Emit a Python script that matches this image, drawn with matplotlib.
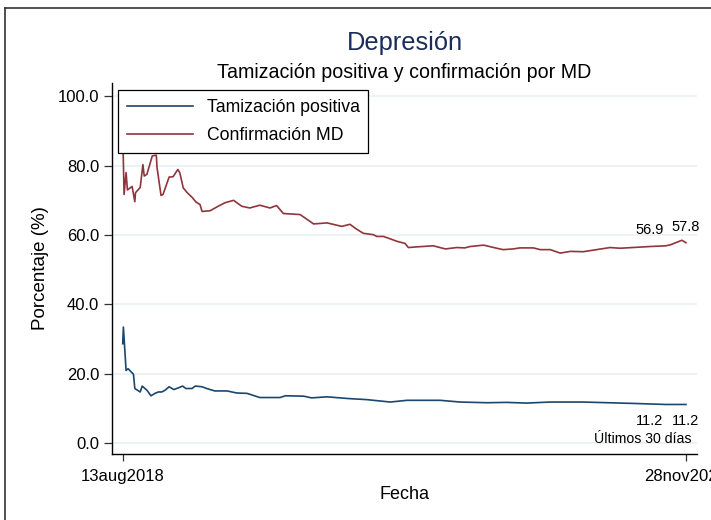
import numpy as np
import pandas as pd
import matplotlib
matplotlib.use("Agg")
import matplotlib.pyplot as plt
from matplotlib.lines import Line2D

plt.rcParams['font.family'] = ['Liberation Sans', 'DejaVu Sans']

start = pd.Timestamp("2018-08-13")
end = pd.Timestamp("2020-11-28")

# days since 13aug2018 and values (%)
conf_days = [0, 2, 5, 7, 14, 18, 19, 26, 30, 32, 36, 39, 44, 50, 51, 57, 60, 69, 75, 82,
             85, 90, 96, 104, 109, 115, 118, 130, 142, 152, 165, 177, 189, 204, 219, 229,
             239, 264, 284, 304, 326, 338, 348, 358, 373, 378, 388, 398, 408, 420, 425,
             438, 462, 480, 497, 509, 517, 537, 552, 566, 581, 591, 611, 621, 636, 651,
             666, 685, 725, 740, 785, 808, 815, 832, 838]
conf_vals = [90.0, 71.7, 78.0, 73.0, 74.0, 69.6, 72.2, 73.7, 80.3, 77.0, 77.5, 79.5, 82.8,
             83.0, 79.5, 71.4, 71.7, 76.7, 76.8, 78.9, 77.9, 73.6, 72.2, 70.7, 69.5, 68.8,
             66.8, 67.0, 68.3, 69.3, 70.0, 68.3, 67.8, 68.6, 67.8, 68.5, 66.2, 65.9, 63.2,
             63.5, 62.5, 63.1, 61.7, 60.5, 60.1, 59.6, 59.6, 58.9, 58.2, 57.6, 56.4, 56.6,
             56.9, 56.0, 56.4, 56.3, 56.7, 57.1, 56.4, 55.8, 56.0, 56.3, 56.3, 55.8, 55.8,
             54.8, 55.3, 55.2, 56.4, 56.2, 56.7, 56.9, 57.2, 58.5, 57.8]

tam_days = [0, 1, 5, 8, 16, 18, 26, 29, 36, 42, 48, 53, 58, 63, 69, 76, 83, 89, 94, 103,
            108, 118, 125, 137, 155, 170, 185, 204, 234, 242, 269, 281, 304, 336, 363, 398,
            423, 472, 502, 542, 571, 601, 636, 663, 685, 760, 808, 838]
tam_vals = [28.7, 33.5, 21.0, 21.5, 19.9, 15.8, 14.8, 16.5, 15.3, 13.7, 14.4, 14.8, 14.8,
            15.3, 16.3, 15.5, 16.0, 16.5, 15.8, 15.8, 16.5, 16.3, 15.8, 15.1, 15.1, 14.5,
            14.4, 13.2, 13.2, 13.7, 13.6, 13.1, 13.4, 12.9, 12.6, 11.9, 12.4, 12.4, 11.9,
            11.7, 11.8, 11.6, 11.9, 11.9, 11.9, 11.5, 11.2, 11.2]

label_days = [808, 838]
conf_labels = ["56.9", "57.8"]
tam_labels = ["11.2", "11.2"]

conf_dates = start + pd.to_timedelta(conf_days, unit="D")
tam_dates = start + pd.to_timedelta(tam_days, unit="D")
lab_dates = start + pd.to_timedelta(label_days, unit="D")

blue = "#1a476f"
red = "#90353b"

fig = plt.figure(figsize=(7.11, 5.2), dpi=100)
ax = fig.add_axes([0.1571, 0.1269, 0.8232, 0.7135])

ax.plot(tam_dates, tam_vals, color=blue, lw=1.2, label="Tamización positiva")
ax.plot(conf_dates, conf_vals, color=red, lw=1.2, label="Confirmación MD")

# value labels (last 30 days)
offs = [-16, 0]
for i in range(2):
    cv = conf_vals[conf_days.index(label_days[i])]
    tv = tam_vals[tam_days.index(label_days[i])]
    ax.annotate(conf_labels[i], (lab_dates[i], cv), xytext=(offs[i] * 0.72, 6),
                textcoords="offset points", ha="center", va="bottom", fontsize=10.5)
    ax.annotate(tam_labels[i], (lab_dates[i], tv), xytext=(offs[i] * 0.72, -7),
                textcoords="offset points", ha="center", va="top", fontsize=10.5)

ax.text(0.99, 0.04, "Últimos 30 días", transform=ax.transAxes, ha="right",
        va="center", fontsize=10.2)

ax.set_xlim(start - pd.Timedelta(days=16.4), end + pd.Timedelta(days=16.4))
ax.set_ylim(-3.07, 103.8)
ax.set_yticks([0, 20, 40, 60, 80, 100])
ax.set_yticklabels(["0.0", "20.0", "40.0", "60.0", "80.0", "100.0"], fontsize=12)
ax.set_xticks([start, end])
ax.set_xticklabels(["13aug2018", "28nov2020"], fontsize=12)
ax.tick_params(axis="y", length=6, width=0.9, color="#333333", pad=3)
ax.tick_params(axis="x", length=5, width=0.9, color="#333333", pad=6)

ax.grid(axis="y", color="#eaf2f3", lw=1.3)
ax.set_axisbelow(True)
for s in ["top", "right"]:
    ax.spines[s].set_visible(False)
for s in ["left", "bottom"]:
    ax.spines[s].set_linewidth(1.0)
    ax.spines[s].set_color("black")

ax.set_ylabel("Porcentaje (%)", fontsize=13.5, labelpad=6)
ax.set_xlabel("Fecha", fontsize=13, labelpad=1)

leg = ax.legend(loc="upper left", bbox_to_anchor=(0.0113, 0.98), borderaxespad=0,
                fontsize=12.7, frameon=True, fancybox=False, handlelength=3.75,
                handletextpad=0.75, labelspacing=0.62, borderpad=0.5)
leg.get_frame().set_edgecolor("black")
leg.get_frame().set_linewidth(0.9)
leg.get_frame().set_alpha(1)

fig.text(0.569, 0.918, "Depresión", ha="center", va="center", fontsize=18.3,
         color="#1a2d5a")
fig.text(0.569, 0.861, "Tamización positiva y confirmación por MD", ha="center",
         va="center", fontsize=14.1)

# outer frame (cropped on the right and bottom)
fig.add_artist(Line2D([5 / 711, 5 / 711], [0, 1 - 8 / 520], transform=fig.transFigure,
                      color="#333333", lw=1.2))
fig.add_artist(Line2D([5 / 711, 1], [1 - 8 / 520, 1 - 8 / 520], transform=fig.transFigure,
                      color="#333333", lw=1.2))

fig.savefig("out.png", dpi=100)
